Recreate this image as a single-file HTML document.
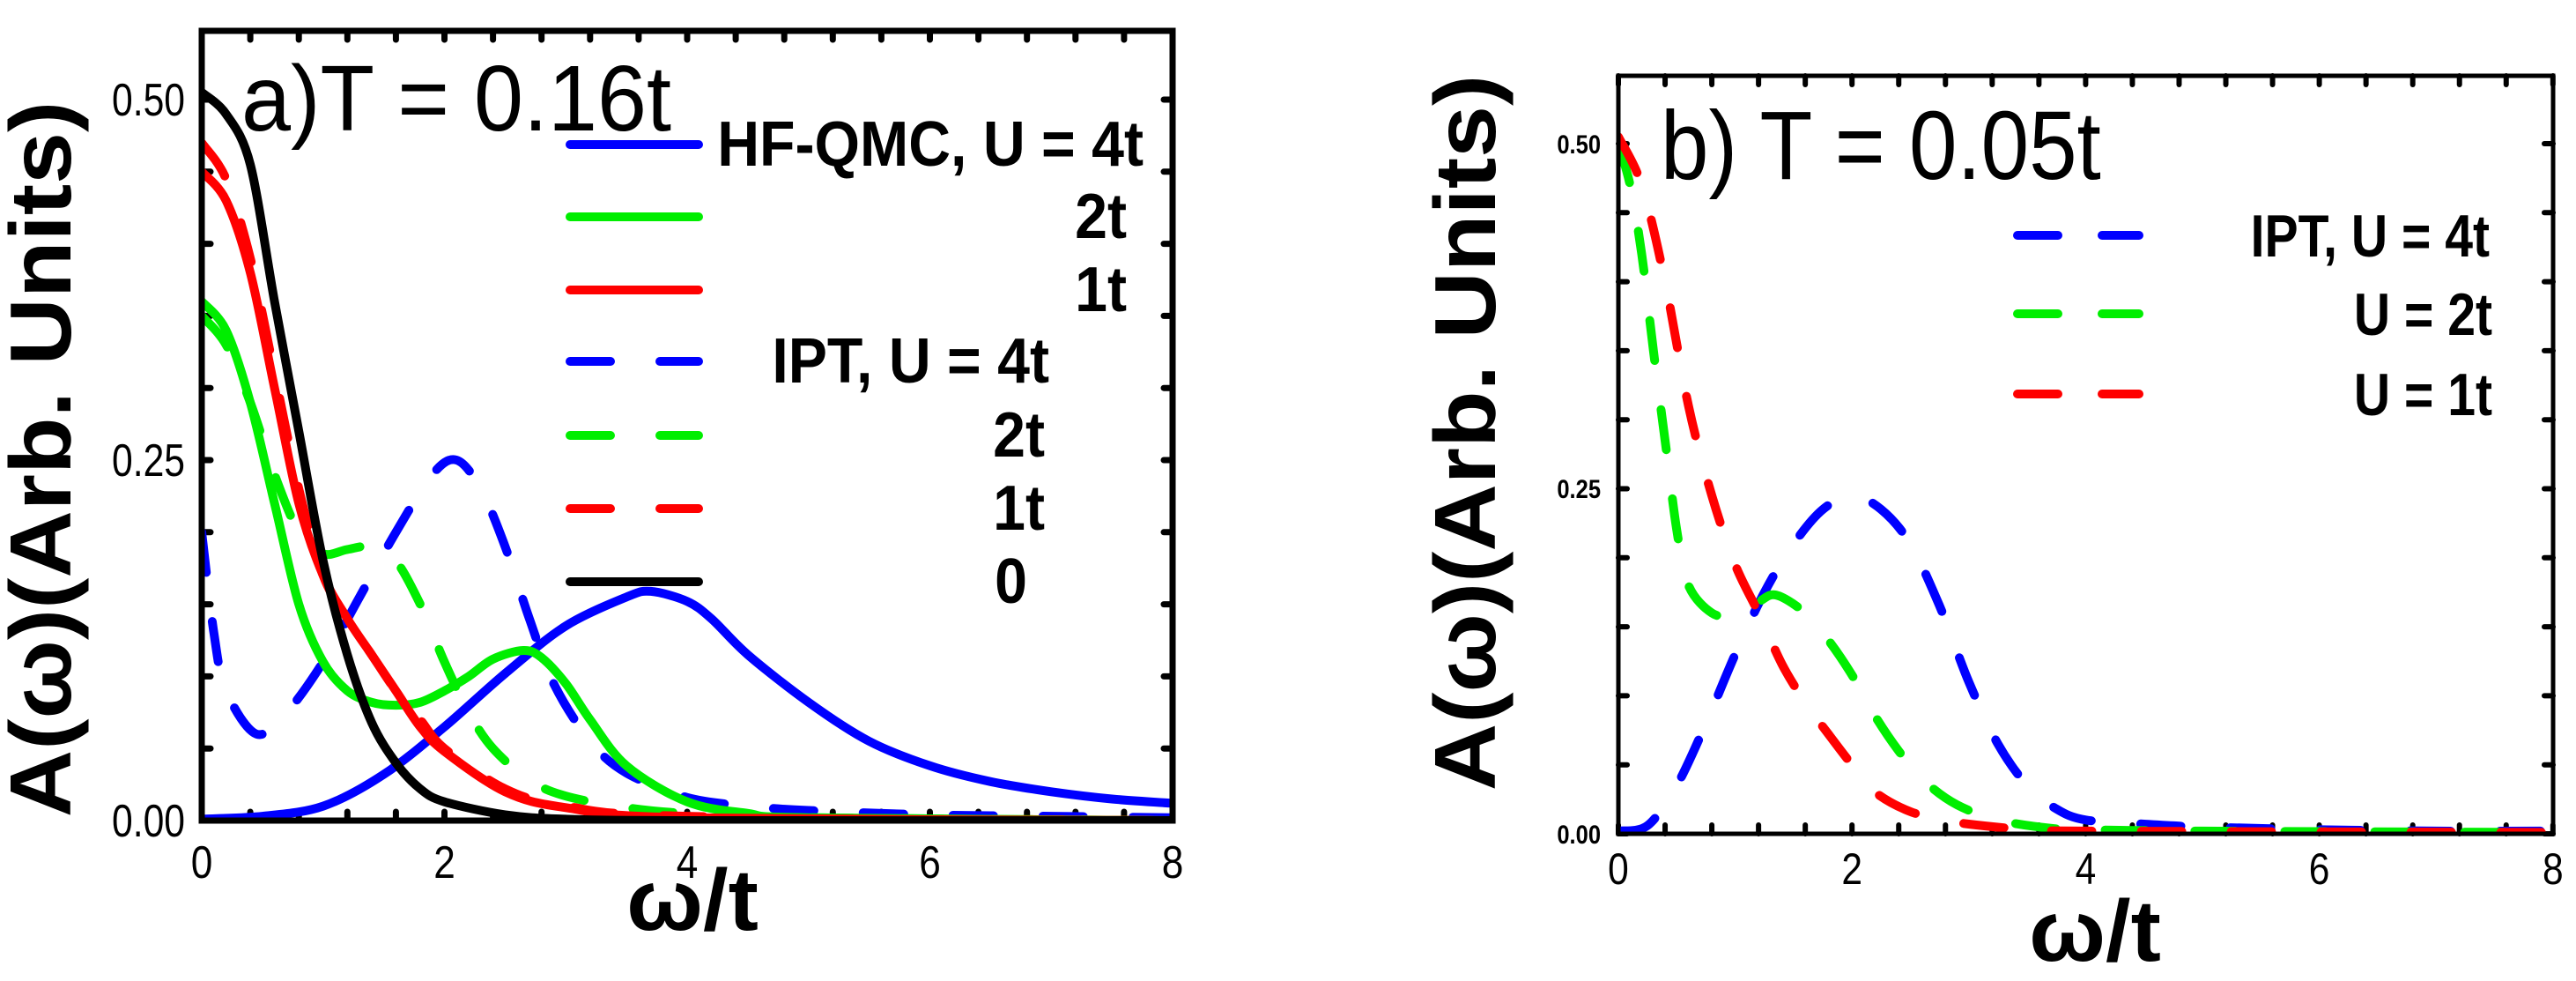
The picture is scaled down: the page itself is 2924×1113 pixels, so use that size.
<!DOCTYPE html>
<html><head><meta charset="utf-8"><style>
html,body{margin:0;padding:0;background:#fff;}
svg{display:block;}
text{font-family:"Liberation Sans",sans-serif;fill:#000;}
</style></head><body>
<svg id="fig" width="2924" height="1113" viewBox="0 0 2924 1113" xmlns="http://www.w3.org/2000/svg">
<defs>
<clipPath id="clipA"><rect x="229" y="35" width="1102" height="898"/></clipPath>
<clipPath id="clipB"><rect x="1837" y="86" width="1061" height="862"/></clipPath>
</defs>
<g id="panelA">
  <g id="ticksA"></g>
  <g id="seriesA" clip-path="url(#clipA)"></g>
  <rect x="229" y="35" width="1102" height="896" fill="none" stroke="#000" stroke-width="7"/>
  <g font-size="52">
    <text transform="translate(210,131) scale(0.82,1)" text-anchor="end">0.50</text>
    <text transform="translate(210,540) scale(0.82,1)" text-anchor="end">0.25</text>
    <text transform="translate(210,949) scale(0.82,1)" text-anchor="end">0.00</text>
  </g>
  <g id="xlabA" font-size="52"></g>
  <text transform="translate(786,1055) scale(1.05,1)" text-anchor="middle" font-size="98" font-weight="bold">ω/t</text>
  <text transform="translate(80,521) rotate(-90) scale(1.08,1)" text-anchor="middle" font-size="98" font-weight="bold">A(ω)(Arb. Units)</text>
  <text transform="translate(274,148) scale(0.95,1)" font-size="106">a)T = 0.16t</text>
  <g font-size="72" font-weight="bold">
    <line x1="647" y1="164" x2="793" y2="164" stroke="#0000ff" stroke-width="10" stroke-linecap="round"/>
    <text transform="translate(1298,188) scale(0.92,1)" text-anchor="end">HF-QMC, U = 4t</text>
    <line x1="647" y1="246" x2="793" y2="246" stroke="#00ee00" stroke-width="10" stroke-linecap="round"/>
    <text transform="translate(1279,270) scale(0.92,1)" text-anchor="end">2t</text>
    <line x1="647" y1="329" x2="793" y2="329" stroke="#ff0000" stroke-width="10" stroke-linecap="round"/>
    <text transform="translate(1279,353) scale(0.92,1)" text-anchor="end">1t</text>
    <line x1="647" y1="410" x2="793" y2="410" stroke="#0000ff" stroke-width="10" stroke-linecap="round" stroke-dasharray="46 56"/>
    <text transform="translate(1191,434) scale(0.92,1)" text-anchor="end">IPT, U = 4t</text>
    <line x1="647" y1="494" x2="793" y2="494" stroke="#00ee00" stroke-width="10" stroke-linecap="round" stroke-dasharray="46 56"/>
    <text transform="translate(1186,518) scale(0.92,1)" text-anchor="end">2t</text>
    <line x1="647" y1="577" x2="793" y2="577" stroke="#ff0000" stroke-width="10" stroke-linecap="round" stroke-dasharray="46 56"/>
    <text transform="translate(1186,601) scale(0.92,1)" text-anchor="end">1t</text>
    <line x1="647" y1="660" x2="793" y2="660" stroke="#000" stroke-width="10" stroke-linecap="round"/>
    <text transform="translate(1166,684) scale(0.92,1)" text-anchor="end">0</text>
  </g>
</g>
<g id="panelB">
  <g id="ticksB"></g>
  <g id="seriesB" clip-path="url(#clipB)"></g>
  <rect x="1837" y="86" width="1061" height="860" fill="none" stroke="#000" stroke-width="5"/>
  <g font-size="30" font-weight="bold">
    <text transform="translate(1817,174) scale(0.85,1)" text-anchor="end">0.50</text>
    <text transform="translate(1817,565) scale(0.85,1)" text-anchor="end">0.25</text>
    <text transform="translate(1817,957) scale(0.85,1)" text-anchor="end">0.00</text>
  </g>
  <g id="xlabB" font-size="50"></g>
  <text transform="translate(2378,1090) scale(1.05,1)" text-anchor="middle" font-size="98" font-weight="bold">ω/t</text>
  <text transform="translate(1697,491) rotate(-90) scale(1.08,1)" text-anchor="middle" font-size="98" font-weight="bold">A(ω)(Arb. Units)</text>
  <text transform="translate(1885,203) scale(0.89,1)" font-size="110">b) T = 0.05t</text>
  <g font-size="68" font-weight="bold">
    <line x1="2290" y1="267" x2="2428" y2="267" stroke="#0000ff" stroke-width="10" stroke-linecap="round" stroke-dasharray="46 50"/>
    <text transform="translate(2826,291) scale(0.84,1)" text-anchor="end">IPT, U = 4t</text>
    <line x1="2290" y1="356" x2="2428" y2="356" stroke="#00ee00" stroke-width="10" stroke-linecap="round" stroke-dasharray="46 50"/>
    <text transform="translate(2829,380) scale(0.84,1)" text-anchor="end">U = 2t</text>
    <line x1="2290" y1="447" x2="2428" y2="447" stroke="#ff0000" stroke-width="10" stroke-linecap="round" stroke-dasharray="46 50"/>
    <text transform="translate(2829,471) scale(0.84,1)" text-anchor="end">U = 1t</text>
  </g>
</g>
</svg>
<script>
// ---------- Panel a data ----------
const xTicks = [0, 2, 4, 6, 8];
const xTickLabels = ["0", "2", "4", "6", "8"];
const aBlackX = [0,0.2,0.4,0.6,0.8,1.0,1.2,1.4,1.6,1.8,2.0,2.5,3,4,8];
const aBlackY = [0.505,0.49,0.455,0.36,0.27,0.18,0.115,0.068,0.04,0.022,0.013,0.004,0.001,0,0];
const aRedSolidX = [0,0.2,0.4,0.6,0.8,1.0,1.2,1.4,1.6,1.8,2.0,2.5,3,4,8];
const aRedSolidY = [0.45,0.43,0.38,0.30,0.22,0.17,0.14,0.115,0.09,0.065,0.048,0.02,0.009,0.002,0];
const aRedDashX = [0,0.2,0.4,0.6,0.8,1.0,1.2,1.4,1.6,1.8,2.0,2.5,3,4,8];
const aRedDashY = [0.47,0.445,0.39,0.31,0.23,0.17,0.14,0.115,0.09,0.07,0.05,0.022,0.01,0.003,0];
const aGreenSolidX = [0,0.2,0.4,0.6,0.8,1.0,1.2,1.4,1.6,1.8,2.0,2.2,2.4,2.65,2.8,3.0,3.2,3.5,4,4.5,5,8];
const aGreenSolidY = [0.36,0.34,0.29,0.22,0.15,0.11,0.09,0.082,0.08,0.082,0.09,0.1,0.112,0.118,0.113,0.095,0.07,0.038,0.013,0.005,0.002,0];
const aGreenDashX = [0,0.2,0.4,0.6,0.8,1.0,1.2,1.4,1.6,1.8,2.0,2.2,2.4,2.7,3,3.5,4,5,8];
const aGreenDashY = [0.35,0.33,0.29,0.24,0.20,0.185,0.188,0.19,0.18,0.15,0.11,0.075,0.05,0.028,0.017,0.009,0.005,0.002,0];
const aBlueSolidX = [0,0.5,1,1.5,2,2.5,3,3.5,3.7,4,4.2,4.5,5,5.5,6,6.5,7,7.5,8];
const aBlueSolidY = [0.001,0.003,0.01,0.032,0.065,0.102,0.135,0.155,0.159,0.152,0.14,0.115,0.082,0.055,0.038,0.027,0.02,0.015,0.012];
const aBlueDashX = [0,0.1,0.2,0.45,0.7,1.0,1.3,1.6,1.9,2.1,2.3,2.5,2.7,2.9,3.2,3.5,4,4.5,5,6,7,8];
const aBlueDashY = [0.2,0.13,0.09,0.06,0.075,0.11,0.155,0.2,0.24,0.25,0.23,0.19,0.14,0.095,0.055,0.033,0.016,0.01,0.007,0.004,0.003,0.002];
// ---------- Panel b data ----------
const bBlueX = [0,0.25,0.5,0.75,1.0,1.25,1.5,1.75,2.0,2.25,2.5,2.75,3.0,3.25,3.5,3.75,4,4.5,5,6,7,8];
const bBlueY = [0.002,0.006,0.035,0.08,0.13,0.175,0.21,0.235,0.245,0.235,0.21,0.165,0.11,0.065,0.035,0.018,0.01,0.007,0.005,0.003,0.002,0.002];
const bGreenX = [0,0.1,0.2,0.3,0.4,0.5,0.6,0.8,1.0,1.2,1.35,1.6,1.8,2.0,2.2,2.4,2.6,2.8,3.0,3.3,3.7,4,5,8];
const bGreenY = [0.5,0.47,0.42,0.35,0.285,0.22,0.18,0.16,0.158,0.168,0.173,0.16,0.14,0.115,0.085,0.06,0.04,0.026,0.017,0.009,0.004,0.003,0.002,0.001];
const bRedX = [0,0.2,0.4,0.6,0.8,1.0,1.2,1.4,1.6,1.8,2.0,2.2,2.5,2.8,3.0,3.5,4,8];
const bRedY = [0.505,0.47,0.4,0.31,0.245,0.195,0.16,0.123,0.095,0.072,0.05,0.03,0.016,0.01,0.007,0.003,0.002,0.001];

const NS = "http://www.w3.org/2000/svg";
function axA_x(v){ return 229 + v*137.75; }
function axA_y(v){ return 931 - v*1636; }
function axB_x(v){ return 1837 + v*132.6; }
function axB_y(v){ return 946 - v*1566; }

function pathFrom(xs, ys, fx, fy){
  const p = xs.map((x,i)=>[fx(x), fy(ys[i])]);
  let d = "M"+p[0][0].toFixed(1)+","+p[0][1].toFixed(1);
  for(let i=0;i<p.length-1;i++){
    const p0=p[Math.max(i-1,0)], p1=p[i], p2=p[i+1], p3=p[Math.min(i+2,p.length-1)];
    const t=0.16;
    const c1=[p1[0]+(p2[0]-p0[0])*t, p1[1]+(p2[1]-p0[1])*t];
    const c2=[p2[0]-(p3[0]-p1[0])*t, p2[1]-(p3[1]-p1[1])*t];
    d += " C"+c1[0].toFixed(1)+","+c1[1].toFixed(1)+" "+c2[0].toFixed(1)+","+c2[1].toFixed(1)+" "+p2[0].toFixed(1)+","+p2[1].toFixed(1);
  }
  return d;
}
function addSeries(g, name, xs, ys, fx, fy, color, dash){
  const el = document.createElementNS(NS,"path");
  
  
  el.setAttribute("d", pathFrom(xs,ys,fx,fy));
  el.setAttribute("fill","none");
  el.setAttribute("stroke",color);
  el.setAttribute("stroke-width","10");
  el.setAttribute("stroke-linecap","round");
  el.setAttribute("stroke-linejoin","round");
  if(dash) el.setAttribute("stroke-dasharray",dash);
  g.appendChild(el);
}
const gA = document.getElementById("seriesA");
addSeries(gA,"series-hfqmc-4t",aBlueSolidX,aBlueSolidY,axA_x,axA_y,"#0000ff",null);
addSeries(gA,"series-ipt-4t",aBlueDashX,aBlueDashY,axA_x,axA_y,"#0000ff","46 56");
addSeries(gA,"series-ipt-2t",aGreenDashX,aGreenDashY,axA_x,axA_y,"#00ee00","46 56");
addSeries(gA,"series-ipt-1t",aRedDashX,aRedDashY,axA_x,axA_y,"#ff0000","46 56");
addSeries(gA,"series-hfqmc-2t",aGreenSolidX,aGreenSolidY,axA_x,axA_y,"#00ee00",null);
addSeries(gA,"series-hfqmc-1t",aRedSolidX,aRedSolidY,axA_x,axA_y,"#ff0000",null);
addSeries(gA,"series-u0",aBlackX,aBlackY,axA_x,axA_y,"#000000",null);
const gB = document.getElementById("seriesB");
addSeries(gB,"series-ipt-4t",bBlueX,bBlueY,axB_x,axB_y,"#0000ff","46 56");
addSeries(gB,"series-ipt-2t",bGreenX,bGreenY,axB_x,axB_y,"#00ee00","46 56");
addSeries(gB,"series-ipt-1t",bRedX,bRedY,axB_x,axB_y,"#ff0000","46 56");

function ticks(gid, fx, fy, x0, x1, y0, y1, len, w){
  const g = document.getElementById(gid);
  for(let k=0;k<=20;k++){
    const v=k*0.4, x=fx(v);
    [[y0,y0-len],[y1,y1+len]].forEach(function(s){
      const l=document.createElementNS(NS,"line");
      
      
      l.setAttribute("x1",x);l.setAttribute("x2",x);l.setAttribute("y1",s[0]);l.setAttribute("y2",s[1]);
      l.setAttribute("stroke","#000");l.setAttribute("stroke-width",w);l.setAttribute("stroke-linecap","round");
      g.appendChild(l);
    });
  }
  for(let k=0;k<=10;k++){
    const y=fy(k*0.05);
    [[x0,x0+len],[x1,x1-len]].forEach(function(s){
      const l=document.createElementNS(NS,"line");
      
      
      l.setAttribute("x1",s[0]);l.setAttribute("x2",s[1]);l.setAttribute("y1",y);l.setAttribute("y2",y);
      l.setAttribute("stroke","#000");l.setAttribute("stroke-width",w);l.setAttribute("stroke-linecap","round");
      g.appendChild(l);
    });
  }
}
ticks("ticksA",axA_x,axA_y,229,1331,931,35,10,7);
ticks("ticksB",axB_x,axB_y,1837,2898,946,86,10,6);

function xLabels(gid, fx, y){
  const g=document.getElementById(gid);
  xTicks.forEach(function(v,i){
    const t=document.createElementNS(NS,"text");
    
    
    t.setAttribute("transform","translate("+fx(v)+","+y+") scale(0.85,1)");
    t.setAttribute("text-anchor","middle");
    t.textContent=xTickLabels[i];
    g.appendChild(t);
  });
}
xLabels("xlabA",axA_x,996);
xLabels("xlabB",axB_x,1003);
</script>
</body></html>
